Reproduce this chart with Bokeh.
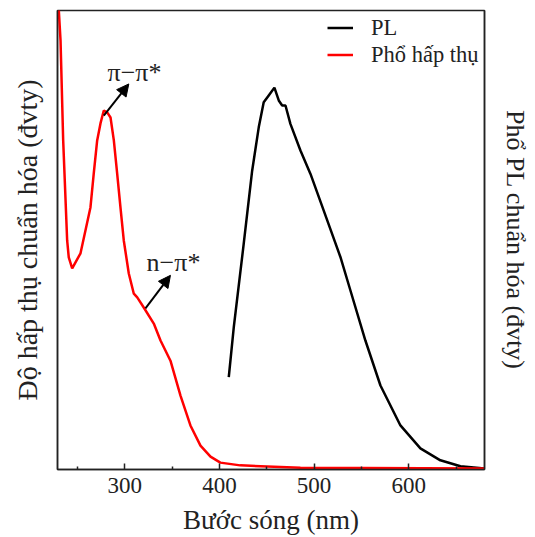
from bokeh.plotting import figure
from bokeh.models import Range1d, LinearAxis, FixedTicker, Arrow, NormalHead, ColumnDataSource, Legend, LegendItem
from bokeh.core.properties import value
from bokeh.embed import file_html
from bokeh.resources import INLINE

# Absorption spectrum (normalized)
abs_wl = [229, 232.2, 235.0, 239.2, 240.9, 244.5, 253.3, 263.8, 267.3, 270.9, 274.4, 277.9,
          281.5, 285.0, 288.5, 292.0, 295.5, 299.0, 304.3, 309.6, 313.2, 320.1, 330.7, 337.8,
          348.3, 358.9, 369.4, 380.0, 390.6, 401.0, 422.0, 485.6, 680.0]
abs_val = [1.05, 0.935, 0.717, 0.499, 0.462, 0.438, 0.471, 0.571, 0.645, 0.717, 0.754, 0.782,
           0.778, 0.767, 0.717, 0.645, 0.571, 0.499, 0.427, 0.383, 0.375, 0.353, 0.318, 0.281,
           0.237, 0.161, 0.096, 0.052, 0.028, 0.015, 0.009, 0.004, 0.002]

# PL spectrum (normalized)
pl_wl = [409.9, 415.2, 425.7, 434.6, 441.6, 446.8, 452.1, 458.1, 462.7, 466.3, 469.8, 475.0,
         485.6, 496.2, 510.2, 527.8, 538.4, 554.2, 570.1, 591.2, 612.3, 633.4, 654.6, 680.0]
pl_val = [0.201, 0.310, 0.492, 0.651, 0.746, 0.800, 0.815, 0.832, 0.804, 0.793, 0.793, 0.753,
          0.695, 0.644, 0.564, 0.463, 0.390, 0.281, 0.183, 0.096, 0.046, 0.020, 0.007, 0.002]

x_ticks = [300, 400, 500, 600]
x_minor = [250, 350, 450, 550, 650]

# annotations
ann_text = ["π−π*", "n−π*"]
ann_x = [310.3, 351.5]
ann_y = [0.866, 0.452]
arr_x0 = [277.9, 321.9]
arr_y0 = [0.771, 0.351]
arr_x1 = [304.3, 348.3]
arr_y1 = [0.840, 0.423]

FONT = "Liberation Serif"

p = figure(frame_width=427, frame_height=459, output_backend="svg", toolbar_location=None,
           x_range=Range1d(229, 680), y_range=Range1d(0, 1.0),
           min_border_left=57, min_border_right=43, min_border_top=10, min_border_bottom=68)
p.grid.visible = False
p.outline_line_color = "#222222"
p.outline_line_width = 1.5
p.background_fill_color = "white"
p.border_fill_color = "white"

xa = p.xaxis[0]
xa.ticker = FixedTicker(ticks=x_ticks, minor_ticks=x_minor)
xa.major_tick_in = 6
xa.major_tick_out = 0
xa.minor_tick_in = 3
xa.minor_tick_out = 0
xa.axis_line_width = 1.5
xa.axis_line_color = "#222222"
xa.major_tick_line_color = "#222222"
xa.minor_tick_line_color = "#222222"
xa.major_tick_line_width = 1.5
xa.minor_tick_line_width = 1.5
xa.major_label_text_font = FONT
xa.major_label_text_font_size = "23px"
xa.major_label_text_color = "#222222"
xa.major_label_standoff = 8
xa.axis_label = "Bước sóng (nm)"
xa.axis_label_text_font = FONT
xa.axis_label_text_font_size = "27px"
xa.axis_label_text_font_style = "normal"
xa.axis_label_text_color = "#222222"
xa.axis_label_standoff = 9

ya = p.yaxis[0]
ya.ticker = FixedTicker(ticks=[], minor_ticks=[])
ya.axis_line_width = 1.5
ya.axis_line_color = "#222222"
ya.axis_label = "Độ hấp thụ chuẩn hóa (đvty)"
ya.axis_label_text_font = FONT
ya.axis_label_text_font_size = "28px"
ya.axis_label_text_font_style = "normal"
ya.axis_label_text_color = "#222222"
ya.axis_label_standoff = 15

ra = LinearAxis(ticker=FixedTicker(ticks=[], minor_ticks=[]),
                axis_label="Phổ PL chuẩn hóa (đvty)")
ra.axis_line_width = 1.5
ra.axis_line_color = "#222222"
ra.axis_label_text_font = FONT
ra.axis_label_text_font_size = "26px"
ra.axis_label_text_font_style = "normal"
ra.axis_label_text_color = "#222222"
ra.axis_label_standoff = 16
p.add_layout(ra, "right")

r_pl = p.line(pl_wl, pl_val, line_color="black", line_width=2.5)
r_abs = p.line(abs_wl, abs_val, line_color="red", line_width=2.5)

for i in range(len(arr_x0)):
    p.add_layout(Arrow(end=NormalHead(size=12, fill_color="black", line_color="black"),
                       x_start=arr_x0[i], y_start=arr_y0[i], x_end=arr_x1[i], y_end=arr_y1[i],
                       line_color="black", line_width=2))

src = ColumnDataSource(dict(x=ann_x, y=ann_y, t=ann_text))
p.text(x="x", y="y", text="t", source=src, text_font=value(FONT), text_font_size="26px",
       text_align="center", text_baseline="middle", text_color="#222222")

legend = Legend(items=[LegendItem(label="PL", renderers=[r_pl]),
                       LegendItem(label="Phổ hấp thụ", renderers=[r_abs])],
                location=(270, 401))
legend.border_line_color = None
legend.background_fill_alpha = 0
legend.margin = 0
legend.padding = 4
legend.spacing = 0
legend.glyph_width = 26
legend.glyph_height = 27
legend.label_height = 27
legend.label_standoff = 18
legend.label_text_font = FONT
legend.label_text_font_size = "22.5px"
legend.label_text_color = "#222222"
p.add_layout(legend)

open("out.html", "w").write(file_html(p, INLINE))
